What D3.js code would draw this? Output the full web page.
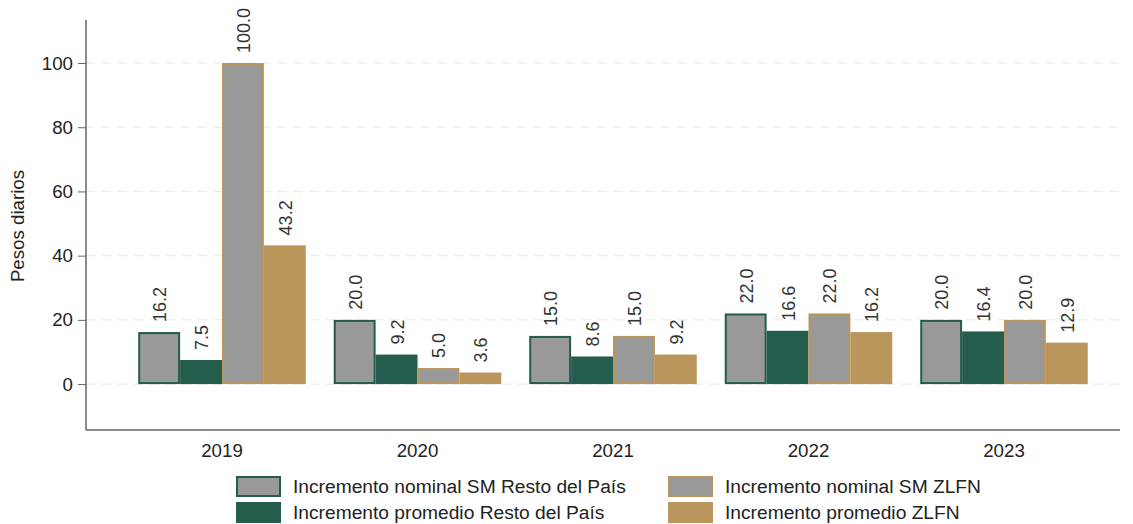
<!DOCTYPE html>
<html>
<head>
  <meta charset="utf-8">
  <title>Incrementos salario mínimo</title>
  <script src="https://cdn.jsdelivr.net/npm/d3@7"></script>
  <style>
    body { margin: 0; background: #fff; }
    svg text { font-family: Arial, "Liberation Sans", sans-serif; }
  </style>
</head>
<body>
  <div id="chart"></div>
  <script>
    // data
    const years = ["2019", "2020", "2021", "2022", "2023"];
    const nominalResto = [16.2, 20.0, 15.0, 22.0, 20.0];
    const promedioResto = [7.5, 9.2, 8.6, 16.6, 16.4];
    const nominalZlfn = [100.0, 5.0, 15.0, 22.0, 20.0];
    const promedioZlfn = [43.2, 3.6, 9.2, 16.2, 12.9];
    const yTicks = [0, 20, 40, 60, 80, 100];

    const seriesNames = [
      "Incremento nominal SM Resto del País",
      "Incremento promedio Resto del País",
      "Incremento nominal SM ZLFN",
      "Incremento promedio ZLFN"
    ];
    const seriesValues = [nominalResto, promedioResto, nominalZlfn, promedioZlfn];
    const green = "#245c4d", tan = "#ba955c", grey = "#999999";
    const fills = [grey, green, grey, tan];
    const strokes = [green, null, tan, null];

    const width = 1133, height = 524;
    const plot = { left: 86, right: 1120, top: 20, bottom: 430 };
    const fontSize = 18.7;

    const svg = d3.select("#chart").append("svg")
      .attr("width", width)
      .attr("height", height);

    const y = d3.scaleLinear()
      .domain([-14.3, 113.4])
      .range([plot.bottom, plot.top]);

    const x = d3.scaleBand()
      .domain(years)
      .range([124.25, 1101.75])
      .paddingInner(0.143)
      .paddingOuter(0.0715);

    const xs = d3.scaleBand()
      .domain(d3.range(4))
      .range([0, x.bandwidth()]);

    // gridlines
    svg.append("g")
      .selectAll("line")
      .data(yTicks)
      .join("line")
      .attr("x1", plot.left)
      .attr("x2", plot.right)
      .attr("y1", d => y(d))
      .attr("y2", d => y(d))
      .attr("stroke", "#e6e6e6")
      .attr("stroke-width", 1)
      .attr("stroke-dasharray", "9,7");

    // bars
    const groups = svg.append("g")
      .selectAll("g")
      .data(years)
      .join("g")
      .attr("transform", d => `translate(${x(d)},0)`);

    groups.each(function(year, i) {
      const g = d3.select(this);
      seriesValues.forEach((vals, s) => {
        const v = vals[i];
        const sw = strokes[s] ? 2 : 0;
        g.append("rect")
          .attr("x", xs(s) + sw / 2)
          .attr("y", y(v) + sw / 2)
          .attr("width", xs.bandwidth() - sw)
          .attr("height", y(0) - y(v) - sw)
          .attr("fill", fills[s])
          .attr("stroke", strokes[s] || "none")
          .attr("stroke-width", sw);

        const lx = xs(s) + xs.bandwidth() / 2 + 7;
        const ly = y(v) - 10;
        g.append("text")
          .attr("transform", `translate(${lx},${ly}) rotate(-90)`)
          .attr("text-anchor", "start")
          .attr("font-size", 18)
          .attr("fill", "#333")
          .text(v.toFixed(1));
      });
    });

    // axes
    const yAxis = svg.append("g")
      .attr("transform", `translate(${plot.left},0)`)
      .call(d3.axisLeft(y).tickValues(yTicks).tickSize(8).tickPadding(5));
    yAxis.select(".domain").remove();
    yAxis.selectAll("line").attr("stroke", "#666");
    yAxis.selectAll("text").attr("font-size", fontSize).attr("fill", "#222");

    svg.append("line")
      .attr("x1", plot.left).attr("x2", plot.left)
      .attr("y1", plot.top).attr("y2", plot.bottom)
      .attr("stroke", "#666").attr("stroke-width", 1.5);
    svg.append("line")
      .attr("x1", plot.left).attr("x2", plot.right)
      .attr("y1", plot.bottom).attr("y2", plot.bottom)
      .attr("stroke", "#666").attr("stroke-width", 1.5);

    const xAxis = svg.append("g")
      .attr("transform", `translate(0,${plot.bottom})`)
      .call(d3.axisBottom(x).tickSize(0).tickPadding(13.5));
    xAxis.select(".domain").remove();
    xAxis.selectAll("text").attr("font-size", fontSize).attr("fill", "#222");

    // y title
    svg.append("text")
      .attr("transform", `translate(24,226) rotate(-90)`)
      .attr("text-anchor", "middle")
      .attr("font-size", fontSize)
      .attr("fill", "#222")
      .text("Pesos diarios");

    // legend
    const legendPos = [[236, 476], [236, 502], [668, 476], [668, 502]];
    seriesNames.forEach((name, s) => {
      const [lx, ly] = legendPos[s];
      const sw = strokes[s] ? 2 : 0;
      svg.append("rect")
        .attr("x", lx + sw / 2).attr("y", ly + sw / 2)
        .attr("width", 45 - sw).attr("height", 21 - sw)
        .attr("fill", fills[s])
        .attr("stroke", strokes[s] || "none")
        .attr("stroke-width", sw);
      svg.append("text")
        .attr("x", lx + 57).attr("y", ly + 16.5)
        .attr("font-size", 19.2)
        .attr("fill", "#222")
        .text(name);
    });
  </script>
</body>
</html>
